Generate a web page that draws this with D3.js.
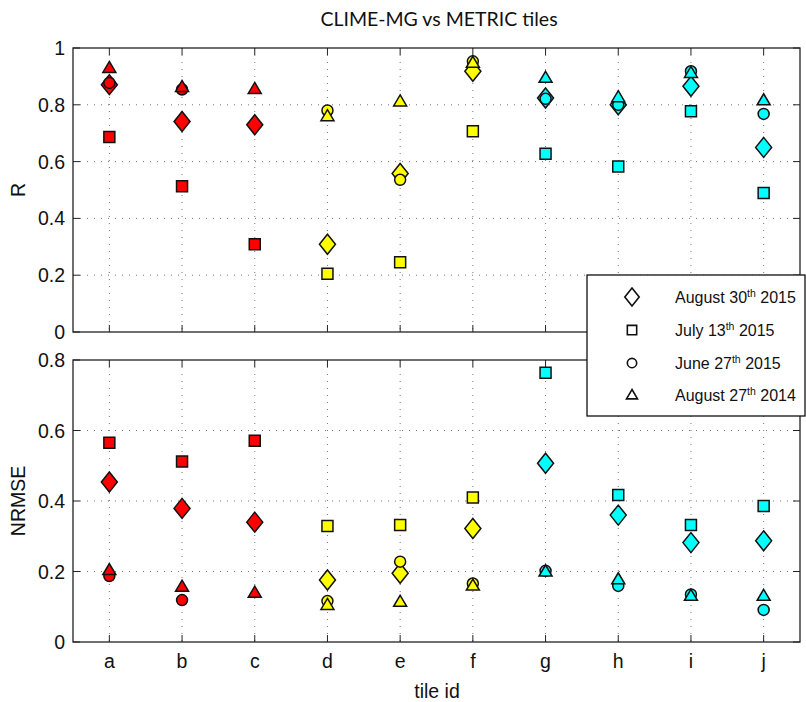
<!DOCTYPE html>
<html><head><meta charset="utf-8">
<script src="https://cdn.jsdelivr.net/npm/d3@7"></script>
<style>body{margin:0;background:#fff}</style>
</head><body>
<svg id="c" width="806" height="702"></svg>
<script>
const tiles = ["a","b","c","d","e","f","g","h","i","j"];
const tileColors = ["#ff0000","#ff0000","#ff0000","#ffff00","#ffff00","#ffff00","#00ffff","#00ffff","#00ffff","#00ffff"];
const seriesNames = ["August 30", "July 13", "June 27", "August 27"];
const seriesYears = ["2015","2015","2015","2014"];
const seriesShapes = ["diamond","square","circle","triangle"];
// R values (top panel)
const rAug30_2015 = [0.871,0.741,0.730,0.309,0.558,0.918,0.824,0.800,0.865,0.650];
const rJul13_2015 = [0.687,0.513,0.309,0.205,0.246,0.707,0.628,0.583,0.777,0.489];
const rJun27_2015 = [0.877,0.854,null,0.780,0.536,0.953,0.821,0.800,0.918,0.768];
const rAug27_2014 = [0.930,0.863,0.856,0.760,0.812,0.948,0.895,0.827,0.912,0.816];
// NRMSE values (bottom panel)
const nAug30_2015 = [0.454,0.379,0.340,0.176,0.195,0.322,0.507,0.360,0.282,0.287];
const nJul13_2015 = [0.565,0.512,0.571,0.329,0.332,0.410,0.764,0.417,0.332,0.386];
const nJun27_2015 = [0.187,0.119,null,0.116,0.228,0.166,0.202,0.159,0.135,0.091];
const nAug27_2014 = [0.204,0.157,0.140,0.105,0.114,0.160,0.200,0.178,0.131,0.131];
const rTicks = [0,0.2,0.4,0.6,0.8,1];
const nTicks = [0,0.2,0.4,0.6,0.8];

const svg = d3.select("#c");
const L = 73, R = 800;
const x = d3.scaleLinear().domain([0.5, 10.5]).range([L, R]);

function shapePath(shape, s) {
  if (shape === "diamond") { const w=8*s, h=10*s; return `M0,${-h}L${w},0L0,${h}L${-w},0Z`; }
  if (shape === "square") { const a=5.5*s; return `M${-a},${-a}H${a}V${a}H${-a}Z`; }
  if (shape === "circle") { const r=5.5*s; return `M${r},0A${r},${r} 0 1,1 ${-r},0A${r},${r} 0 1,1 ${r},0Z`; }
  if (shape === "triangle") { const w=6.5*s; return `M0,${-6.5*s}L${w},${4.5*s}L${-w},${4.5*s}Z`; }
}

function panel(top, bottom, ymax, ticks, seriesData, ylabel, showX) {
  const y = d3.scaleLinear().domain([0, ymax]).range([bottom, top]);
  const g = svg.append("g");
  g.selectAll(".gx").data(tiles).enter().append("line")
    .attr("x1",(d,i)=>x(i+1)).attr("x2",(d,i)=>x(i+1)).attr("y1",top).attr("y2",bottom)
    .attr("stroke","#777").attr("stroke-width",1).attr("stroke-dasharray","1,6");
  g.selectAll(".gy").data(ticks.filter(t=>t>0 && t<ymax)).enter().append("line")
    .attr("x1",L).attr("x2",R).attr("y1",d=>y(d)).attr("y2",d=>y(d))
    .attr("stroke","#777").attr("stroke-width",1).attr("stroke-dasharray","1,6");
  const tl = 7;
  tiles.forEach((d,i)=>{
    g.append("line").attr("x1",x(i+1)).attr("x2",x(i+1)).attr("y1",bottom).attr("y2",bottom-tl).attr("stroke","#222");
    g.append("line").attr("x1",x(i+1)).attr("x2",x(i+1)).attr("y1",top).attr("y2",top+tl).attr("stroke","#222");
  });
  ticks.forEach(t=>{
    g.append("line").attr("x1",L).attr("x2",L+tl).attr("y1",y(t)).attr("y2",y(t)).attr("stroke","#222");
    g.append("line").attr("x1",R).attr("x2",R-tl).attr("y1",y(t)).attr("y2",y(t)).attr("stroke","#222");
  });
  g.append("rect").attr("x",L).attr("y",top).attr("width",R-L).attr("height",bottom-top)
    .attr("fill","none").attr("stroke","#222").attr("stroke-width",1.3);
  g.selectAll(".yl").data(ticks).enter().append("text")
    .attr("x",L-8).attr("y",d=>y(d)).attr("dy","0.36em").attr("text-anchor","end")
    .attr("font-family","Liberation Sans, Arial, sans-serif").attr("font-size",19.5).attr("fill","#111")
    .text(d=>String(d));
  g.append("text").attr("transform",`translate(25,${(top+bottom)/2}) rotate(-90)`)
    .attr("text-anchor","middle").attr("font-family","Liberation Sans, Arial, sans-serif")
    .attr("font-size",19.5).attr("fill","#111").text(ylabel);
  if (showX) {
    g.selectAll(".xl").data(tiles).enter().append("text")
      .attr("x",(d,i)=>x(i+1)).attr("y",bottom+26).attr("text-anchor","middle")
      .attr("font-family","Liberation Sans, Arial, sans-serif").attr("font-size",19.5).attr("fill","#111")
      .text(d=>d);
  }
  seriesData.forEach((vals, si)=>{
    g.selectAll(null).data(vals.map((v,i)=>({v,i})).filter(d=>d.v!=null)).enter().append("path")
      .attr("d", shapePath(seriesShapes[si], 1))
      .attr("transform", d=>`translate(${x(d.i+1)},${y(d.v)})`)
      .attr("fill", d=>tileColors[d.i]).attr("stroke","#111").attr("stroke-width",1.5);
  });
}

panel(48, 332, 1, rTicks, [rAug30_2015, rJul13_2015, rJun27_2015, rAug27_2014], "R", false);
panel(360, 642, 0.8, nTicks, [nAug30_2015, nJul13_2015, nJun27_2015, nAug27_2014], "NRMSE", true);

svg.append("text").attr("x",439).attr("y",26).attr("text-anchor","middle")
  .attr("font-family","Lato, sans-serif").attr("font-size",19.5).attr("fill","#111")
  .text("CLIME-MG vs METRIC tiles");
svg.append("text").attr("x",437).attr("y",698).attr("text-anchor","middle")
  .attr("font-family","Liberation Sans, Arial, sans-serif").attr("font-size",19.5).attr("fill","#111")
  .text("tile id");

const lg = svg.append("g");
lg.append("rect").attr("x",587).attr("y",275).attr("width",218).attr("height",141)
  .attr("fill","#fff").attr("stroke","#111").attr("stroke-width",1.3);
const rowY = [297, 330, 363, 395];
seriesNames.forEach((n, i)=>{
  lg.append("path").attr("d", shapePath(seriesShapes[i], i===0?0.9:0.85))
    .attr("transform",`translate(632,${rowY[i]})`).attr("fill","#fff").attr("stroke","#111").attr("stroke-width",1.6);
  const t = lg.append("text").attr("x",675).attr("y",rowY[i]+6)
    .attr("font-family","Liberation Sans, Arial, sans-serif").attr("font-size",16).attr("fill","#111");
  t.append("tspan").text(n);
  t.append("tspan").attr("dy",-6).attr("font-size",10.5).text("th");
  t.append("tspan").attr("dy",6).text(" " + seriesYears[i]);
});
</script>
</body></html>
